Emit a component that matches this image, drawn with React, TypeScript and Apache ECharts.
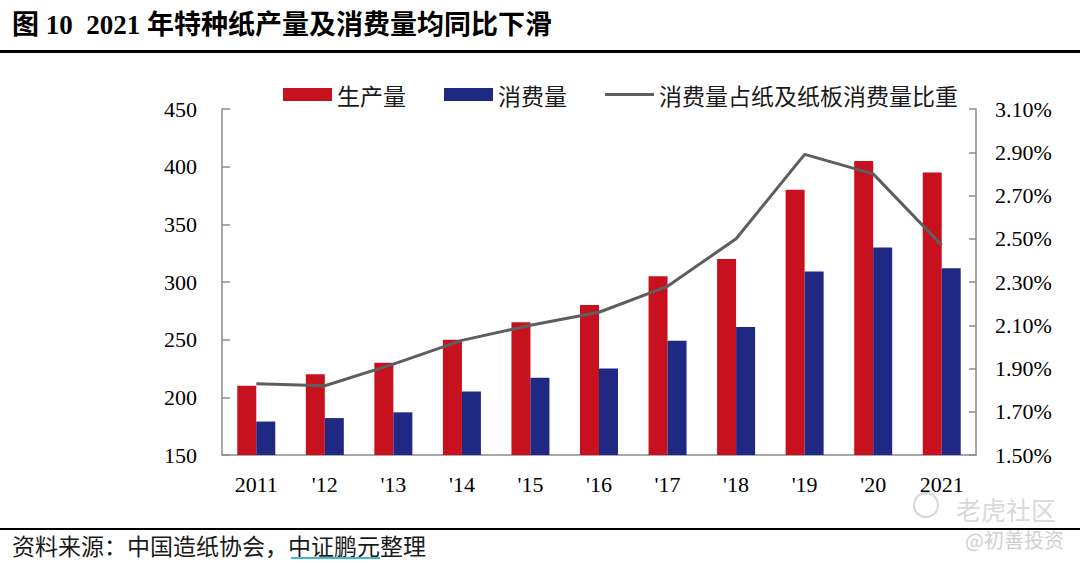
import React, { useEffect, useRef } from "react";
import * as echarts from "echarts";

const years = ["2011", "'12", "'13", "'14", "'15", "'16", "'17", "'18", "'19", "'20", "2021"];
const production = [210, 220, 230, 250, 265, 280, 305, 320, 380, 405, 395];
const consumption = [179, 182, 187, 205, 217, 225, 249, 261, 309, 330, 312];
const sharePct = [1.83, 1.82, 1.92, 2.03, 2.1, 2.16, 2.28, 2.5, 2.89, 2.8, 2.47];
const SHARE_BASE = 1.5;

const titleText = "图 10  2021 年特种纸产量及消费量均同比下滑";
const sourceText = "资料来源：中国造纸协会，中证鹏元整理";
const legendNames = ["生产量", "消费量", "消费量占纸及纸板消费量比重"];

const SERIF = "'Liberation Serif', 'Times New Roman', 'Noto Sans CJK SC', serif";
const CJK = "'Noto Sans CJK SC', sans-serif";

export default function App() {
  const ref = useRef<HTMLDivElement>(null);
  useEffect(() => {
    if (!ref.current) return;
    const chart = echarts.init(ref.current, undefined, { renderer: "svg" });
    chart.setOption({
      animation: false,
      backgroundColor: "#ffffff",
      grid: { left: 222, right: 104, top: 109, bottom: 108 },
      legend: {
        left: 278,
        top: 78,
        itemWidth: 49,
        itemHeight: 13,
        itemGap: 38,
        textStyle: { fontFamily: CJK, fontSize: 23, color: "#1a1a1a" },
        data: [
          { name: legendNames[0], icon: "rect" },
          { name: legendNames[1], icon: "rect" },
          { name: legendNames[2], icon: "path://M0,0 L49,0 L49,3 L0,3 Z" },
        ],
      },
      xAxis: {
        type: "category",
        data: years,
        axisLine: { show: true, lineStyle: { color: "#8c8c8c", width: 1.5 } },
        axisTick: { show: false },
        axisLabel: { fontFamily: SERIF, fontSize: 22, color: "#000", margin: 18 },
      },
      yAxis: [
        {
          type: "value",
          min: 150,
          max: 450,
          interval: 50,
          splitLine: { show: false },
          axisLine: { show: true, lineStyle: { color: "#8c8c8c", width: 1.5 } },
          axisTick: { show: true, inside: true, length: 8, lineStyle: { color: "#8c8c8c", width: 1.5 } },
          axisLabel: { fontFamily: SERIF, fontSize: 22, color: "#000", margin: 25 },
        },
        {
          type: "value",
          min: 0,
          max: 1.6,
          interval: 0.2,
          splitLine: { show: false },
          axisLine: { show: true, lineStyle: { color: "#8c8c8c", width: 1.5 } },
          axisTick: { show: true, inside: true, length: 7, lineStyle: { color: "#8c8c8c", width: 1.5 } },
          axisLabel: {
            fontFamily: SERIF,
            fontSize: 22,
            color: "#000",
            margin: 19,
            formatter: (v: number) => (v + SHARE_BASE).toFixed(2) + "%",
          },
        },
      ],
      series: [
        {
          name: legendNames[0],
          type: "bar",
          data: production,
          barWidth: 19,
          barGap: "0%",
          itemStyle: { color: "#C8111F" },
        },
        {
          name: legendNames[1],
          type: "bar",
          data: consumption,
          barWidth: 19,
          barGap: "0%",
          itemStyle: { color: "#1F2882" },
        },
        {
          name: legendNames[2],
          type: "line",
          yAxisIndex: 1,
          data: sharePct.map((v) => +(v - SHARE_BASE).toFixed(4)),
          symbol: "none",
          lineStyle: { color: "#5E5E5E", width: 3 },
          itemStyle: { color: "#5E5E5E" },
        },
      ],
      graphic: [
        {
          type: "text",
          left: 12,
          top: 11,
          style: {
            text: titleText,
            font: `bold 27px ${SERIF}`,
            fill: "#000",
          },
        },
        {
          type: "rect",
          shape: { x: 0, y: 50, width: 1080, height: 3 },
          style: { fill: "#000" },
        },
        {
          type: "rect",
          shape: { x: 0, y: 528, width: 1080, height: 2 },
          style: { fill: "#000" },
        },
        {
          type: "text",
          left: 12,
          top: 533,
          style: {
            text: sourceText,
            font: `23px ${CJK}`,
            fill: "#1a1a1a",
          },
        },
        {
          type: "line",
          shape: { x1: 291, y1: 558, x2: 380, y2: 558 },
          style: { stroke: "#3fb8d0", lineWidth: 2 },
        },
        {
          type: "circle",
          shape: { cx: 926, cy: 505, r: 12 },
          style: { fill: "none", stroke: "#d6d6d6", lineWidth: 2 },
        },
        {
          type: "text",
          left: 956,
          top: 496,
          style: {
            text: "老虎社区",
            font: `25px ${CJK}`,
            fill: "#d9d9d9",
          },
        },
        {
          type: "text",
          left: 965,
          top: 529,
          style: {
            text: "@初善投资",
            font: `20px ${CJK}`,
            fill: "#d0d0d0",
          },
        },
      ],
    });
    return () => chart.dispose();
  }, []);
  return (
    <div
      ref={ref}
      style={{ position: "fixed", left: 0, top: 0, width: 1080, height: 563 }}
    />
  );
}
